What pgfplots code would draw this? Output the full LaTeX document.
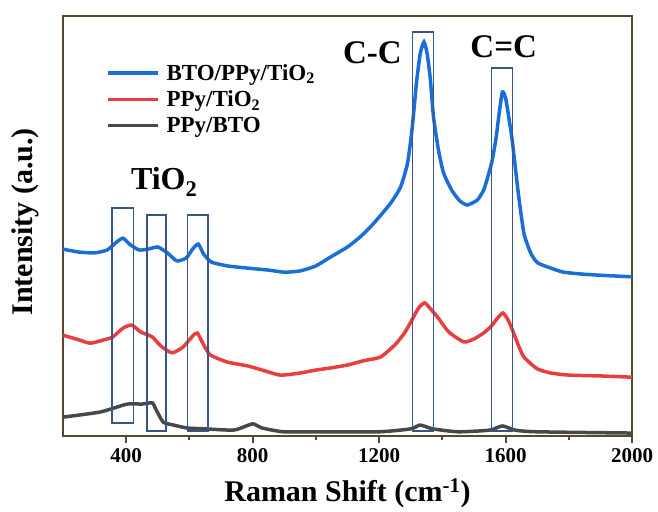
\documentclass[border=0pt]{standalone}
\usepackage{fontspec}
\setmainfont{Liberation Serif}
\usepackage{pgfplots}
\pgfplotsset{compat=1.18}
\usetikzlibrary{calc}
\definecolor{cblue}{RGB}{28,110,215}
\definecolor{cred}{RGB}{232,62,62}
\definecolor{cgray}{RGB}{72,72,72}
\definecolor{framec}{RGB}{88,72,48}
\definecolor{boxc}{RGB}{55,85,135}

\begin{document}
\begin{tikzpicture}
\begin{axis}[
  scale only axis, width=569pt, height=420pt,
  xmin=200, xmax=2000, ymin=0, ymax=100,
  xtick={400,800,1200,1600,2000},
  minor xtick={600,1000,1400,1800},
  ytick=\empty,
  xtick pos=bottom, tick align=outside,
  major tick length=7pt, minor tick length=4pt,
  every tick/.style={line width=2pt, framec},
  axis line style={line width=2.4pt, framec},
  /pgf/number format/assume math mode=true,
  /pgf/number format/set thousands separator={},
  xticklabel style={font=\bfseries\fontsize{21}{24}\selectfont, yshift=-2pt},
  xlabel={Raman Shift (cm\textsuperscript{-1})},
  ylabel={Intensity (a.u.)},
  xlabel style={font=\bfseries\fontsize{30}{34}\selectfont, at={(rel axis cs:0.5,0)}, anchor=center, yshift=-57pt},
  ylabel style={font=\bfseries\fontsize{30}{34}\selectfont, at={([xshift=-38pt]rel axis cs:0,0.51)}, anchor=center},
  legend style={draw=none, fill=none, at={(rel axis cs:0.07,0.895)}, anchor=north west,
    font=\bfseries\fontsize{23}{25.5}\selectfont, row sep=5pt},
  legend cell align=left,
  legend image code/.code={\draw[#1] (0pt,0pt) -- (50pt,0pt); \path (55pt,0pt);},
  every axis plot/.append style={smooth, tension=0.35, line width=3.5pt},
]
\addplot[cblue] coordinates {
(200,44.5)(250,43.8)(300,43.6)(340,44.3)(370,46.2)(390,47.1)(410,45.7)(440,44.3)
(470,44.5)(500,45.0)(530,43.6)(560,41.7)(590,42.4)(610,44.5)(628,45.7)(645,43.3)
(670,41.4)(720,40.5)(780,40.0)(850,39.5)(900,39.0)(950,39.3)(1000,40.5)(1046,42.6)
(1100,45.0)(1140,47.4)(1173,49.8)(1210,53.0)(1240,55.8)(1268,59.3)(1290,65.0)
(1305,73.6)(1318,84.0)(1330,91.0)(1342,93.8)(1352,91.0)(1362,85.0)(1372,76.0)
(1388,68.0)(1404,62.6)(1430,58.5)(1455,56.0)(1479,55.0)(1511,56.2)(1531,58.6)
(1545,62.0)(1558,65.7)(1570,71.0)(1580,77.0)(1590,81.9)(1600,80.5)(1612,75.0)
(1622,69.8)(1640,58.0)(1658,48.3)(1680,43.5)(1702,41.2)(1750,39.8)(1784,39.0)
(1850,38.5)(1920,38.2)(2000,37.9)};
\addlegendentry{BTO/PPy/TiO\textsubscript{2}}
\addplot[cred] coordinates {
(200,24.0)(250,22.9)(286,22.1)(330,22.9)(358,23.6)(390,25.7)(418,26.4)(445,24.8)
(482,23.6)(510,21.4)(545,19.8)(580,21.2)(610,23.8)(625,24.5)(645,21.7)(666,19.3)
(720,17.6)(783,16.7)(830,15.7)(888,14.5)(950,15.0)(1000,15.7)(1046,16.2)(1100,16.9)
(1150,17.9)(1204,18.8)(1250,21.7)(1280,24.5)(1300,27.1)(1325,30.5)(1344,31.7)
(1360,30.5)(1385,28.3)(1420,24.8)(1468,22.4)(1500,23.1)(1530,24.5)(1553,26.0)
(1575,28.1)(1592,29.3)(1608,27.6)(1622,25.2)(1640,21.7)(1658,18.8)(1700,16.0)
(1743,15.0)(1800,14.5)(1900,14.3)(2000,14.0)};
\addlegendentry{PPy/TiO\textsubscript{2}}
\addplot[cgray] coordinates {
(200,4.5)(317,5.7)(403,7.6)(450,7.6)(482,7.9)(495,6.2)(517,3.3)(550,2.6)(593,1.9)
(650,1.7)(739,1.4)(780,2.4)(802,2.9)(830,1.9)(897,1.0)(1000,1.0)(1200,1.0)(1300,1.7)
(1330,2.6)(1370,1.7)(1450,1.0)(1550,1.4)(1590,2.4)(1630,1.4)(1700,1.0)(2000,0.7)};
\addlegendentry{PPy/BTO}
% band boxes
\draw[boxc, line width=1.3pt] (axis cs:355,3.1) rectangle (axis cs:422,54.3);
\draw[boxc, line width=1.3pt] (axis cs:466,1.2) rectangle (axis cs:526,52.6);
\draw[boxc, line width=1.3pt] (axis cs:593,1.2) rectangle (axis cs:659,52.6);
\draw[boxc, line width=1.3pt] (axis cs:1306,1.2) rectangle (axis cs:1372,96.2);
\draw[boxc, line width=1.3pt] (axis cs:1556,1.2) rectangle (axis cs:1622,87.6);
\node[font=\bfseries\fontsize{32}{36}\selectfont] at (axis cs:520,60.5) {TiO\textsubscript{2}};
\node[font=\bfseries\fontsize{33}{36}\selectfont] at (axis cs:1179,91.2) {C-C};
\node[font=\bfseries\fontsize{33}{36}\selectfont] at (axis cs:1594,92.6) {C=C};
\end{axis}
\pgfresetboundingbox
\path ($(current axis.south west)+(-63pt,-75pt)$) rectangle ($(current axis.north east)+(26pt,16pt)$);
\end{tikzpicture}
\end{document}
